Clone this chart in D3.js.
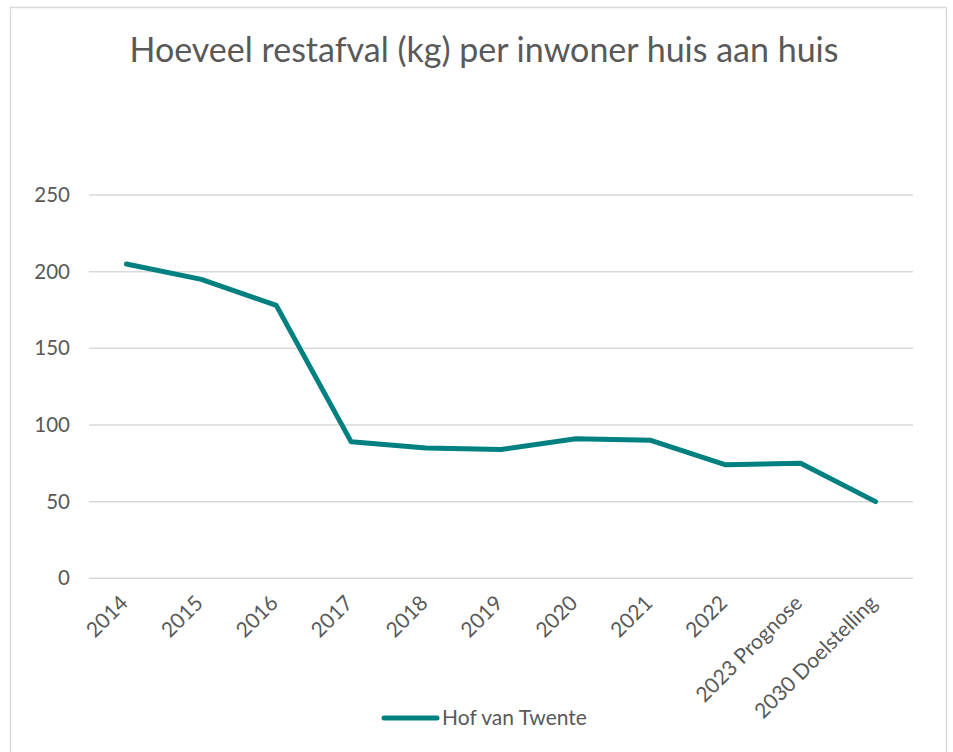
<!DOCTYPE html>
<html>
<head>
<meta charset="utf-8">
<script src="https://cdn.jsdelivr.net/npm/d3@7"></script>
<style>
  body { margin: 0; background: #fff; }
  text { font-family: 'Lato', 'Noto Sans', sans-serif; fill: #595959; }
</style>
</head>
<body>
<svg width="953" height="752"></svg>
<script>
  let categories = ['2014', '2015', '2016', '2017', '2018', '2019', '2020', '2021', '2022', '2023 Prognose', '2030 Doelstelling'];
  let values = [205, 195, 178, 89, 85, 84, 91, 90, 74, 75, 50];
  let yTicks = [0, 50, 100, 150, 200, 250];
  let seriesName = 'Hof van Twente';

  let data = categories.map((c, i) => ({ cat: c, value: values[i] }));

  let svg = d3.select('svg');
  let plotLeft = 89, plotRight = 913, plotTop = 195, plotBottom = 578.3;
  let color = '#008080';

  // chart frame
  svg.append('rect')
      .attr('x', 10.5)
      .attr('y', 7.5)
      .attr('width', 936)
      .attr('height', 770)
      .attr('fill', 'none')
      .attr('stroke', '#d9d9d9')
      .attr('stroke-width', 1.5);

  svg.append('text')
      .attr('x', 484)
      .attr('y', 62)
      .style('font-size', '34px')
      .style('text-anchor', 'middle')
      .text('Hoeveel restafval (kg) per inwoner huis aan huis');

  let xScale = d3.scaleBand()
                  .domain(categories)
                  .range([plotLeft, plotRight]);

  let yScale = d3.scaleLinear()
                  .domain([0, 250])
                  .range([plotBottom, plotTop]);

  // gridlines
  svg.append('g')
      .selectAll('line')
      .data(yTicks)
      .enter()
      .append('line')
      .attr('x1', plotLeft)
      .attr('x2', plotRight)
      .attr('y1', d => yScale(d))
      .attr('y2', d => yScale(d))
      .attr('stroke', '#d9d9d9')
      .attr('stroke-width', 1.5);

  let yAxis = d3.axisLeft(yScale)
                .tickValues(yTicks)
                .tickSize(0)
                .tickPadding(19);

  svg.append('g')
      .attr('transform', `translate(${plotLeft},0)`)
      .call(yAxis)
      .call(g => g.select('.domain').remove())
      .selectAll('text')
      .style('font-size', '20.5px')
      .style('font-family', null)
      .attr('fill', null);

  let xAxis = d3.axisBottom(xScale).tickSize(0);

  svg.append('g')
      .attr('transform', `translate(0,${plotBottom})`)
      .call(xAxis)
      .call(g => g.select('.domain').remove())
      .selectAll('text')
      .style('font-size', '21px')
      .style('font-family', null)
      .attr('fill', null)
      .style('text-anchor', 'end')
      .attr('dy', null)
      .attr('y', 0)
      .attr('transform', 'translate(3,26) rotate(-45)');

  let line = d3.line()
               .x(d => xScale(d.cat) + xScale.bandwidth() / 2)
               .y(d => yScale(d.value));

  svg.append('path')
      .datum(data)
      .attr('d', line)
      .attr('fill', 'none')
      .attr('stroke', color)
      .attr('stroke-width', 5)
      .attr('stroke-linejoin', 'round')
      .attr('stroke-linecap', 'round');

  // legend
  let legend = svg.append('g').attr('transform', 'translate(384,718)');
  legend.append('line')
      .attr('x1', 0)
      .attr('x2', 53)
      .attr('stroke', color)
      .attr('stroke-width', 5)
      .attr('stroke-linecap', 'round');
  legend.append('text')
      .attr('x', 58)
      .attr('dy', '0.35em')
      .style('font-size', '21px')
      .text(seriesName);
</script>
</body>
</html>
